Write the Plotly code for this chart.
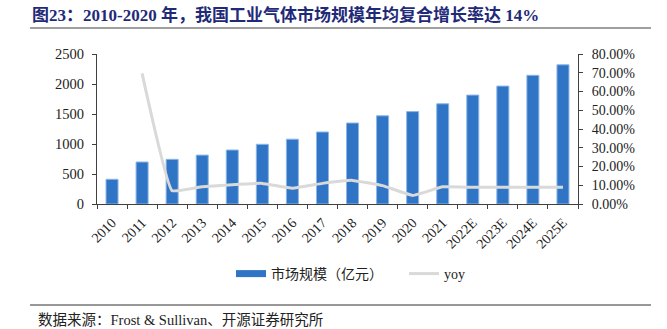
import plotly.graph_objects as go

years = ["2010", "2011", "2012", "2013", "2014", "2015", "2016", "2017", "2018",
         "2019", "2020", "2021", "2022E", "2023E", "2024E", "2025E"]
market_size = [412, 700, 745, 815, 900, 995, 1080, 1200, 1350, 1470, 1540,
               1670, 1815, 1965, 2145, 2320]
yoy = [None, 0.697, 0.071, 0.092, 0.103, 0.110, 0.084, 0.110, 0.126, 0.098,
       0.046, 0.092, 0.089, 0.089, 0.089, 0.089]

serif = "Liberation Serif, Noto Sans CJK SC"
bar_color = "#2F74C5"
line_color = "#D9D9D9"

fig = go.Figure()
fig.add_trace(go.Bar(
    x=years, y=market_size, name="市场规模（亿元）",
    marker=dict(color=bar_color, line=dict(color="#8DB6E6", width=1)),
    width=0.4, yaxis="y", showlegend=False,
))
fig.add_trace(go.Scatter(
    x=years, y=yoy, name="yoy", mode="lines",
    line=dict(color=line_color, width=3, shape="spline", smoothing=0.3),
    yaxis="y2", showlegend=False,
))
# legend entries (bar swatch drawn as a thick line, like the original's wide rectangle)
fig.add_trace(go.Scatter(
    x=[None], y=[None], name="市场规模（亿元）", mode="lines",
    line=dict(color=bar_color, width=7), yaxis="y", showlegend=True,
))
fig.add_trace(go.Scatter(
    x=[None], y=[None], name="yoy", mode="lines",
    line=dict(color=line_color, width=3), yaxis="y2", showlegend=True,
))

axis_col = "#404040"
fig.update_layout(
    width=667, height=329,
    margin=dict(l=97, r=89, t=54, b=125),
    paper_bgcolor="white", plot_bgcolor="white",
    font=dict(family=serif, size=13, color="#222222"),
    showlegend=True,
    legend=dict(orientation="h", x=(231 - 97) / 481, y=(204 - 274) / 150,
                xanchor="left", yanchor="middle",
                font=dict(family=serif, size=14, color="#222222"),
                entrywidth=128, entrywidthmode="pixels", tracegroupgap=0),
    bargap=0.6,
    xaxis=dict(type="category", showline=True, linecolor=axis_col, linewidth=1,
               ticks="outside", tickson="boundaries", ticklen=4, tickcolor=axis_col,
               tickangle=-45, tickfont=dict(family=serif, size=14),
               ticklabelstandoff=4,
               showgrid=False, zeroline=False),
    yaxis=dict(range=[0, 2500], dtick=500, showline=True, linecolor=axis_col,
               linewidth=1, ticks="outside", ticklen=4, tickcolor=axis_col,
               showgrid=False, zeroline=False, ticklabelstandoff=5,
               tickfont=dict(family=serif, size=14.5)),
    yaxis2=dict(range=[0, 0.8], dtick=0.1, tickformat=".2%", overlaying="y",
                side="right", showline=True, linecolor=axis_col, linewidth=1,
                ticks="outside", ticklen=4, tickcolor=axis_col,
                showgrid=False, zeroline=False, ticklabelstandoff=6,
                tickfont=dict(family=serif, size=14)),
    annotations=[
        dict(text="<b>图23：2010-2020 年，我国工业气体市场规模年均复合增长率达 14%</b>",
             xref="paper", yref="paper", x=(30 - 97) / 481, y=(204 - 15) / 150,
             xanchor="left", yanchor="middle", showarrow=False,
             font=dict(family="Liberation Serif, Noto Sans CJK SC", size=17,
                       color="#1F2A78")),
        dict(text="数据来源：Frost &amp; Sullivan、开源证券研究所",
             xref="paper", yref="paper", x=(36 - 97) / 481, y=(204 - 320) / 150,
             xanchor="left", yanchor="middle", showarrow=False,
             font=dict(family=serif, size=14.5, color="#222222")),
    ],
    shapes=[
        dict(type="line", xref="paper", yref="paper",
             x0=(30 - 97) / 481, x1=(651 - 97) / 481,
             y0=(204 - 28) / 150, y1=(204 - 28) / 150,
             line=dict(color="#7F7F7F", width=1.5)),
        dict(type="line", xref="paper", yref="paper",
             x0=(30 - 97) / 481, x1=(651 - 97) / 481,
             y0=(204 - 305) / 150, y1=(204 - 305) / 150,
             line=dict(color="#333333", width=1.2)),
    ],
)

fig.write_html("out.html")
